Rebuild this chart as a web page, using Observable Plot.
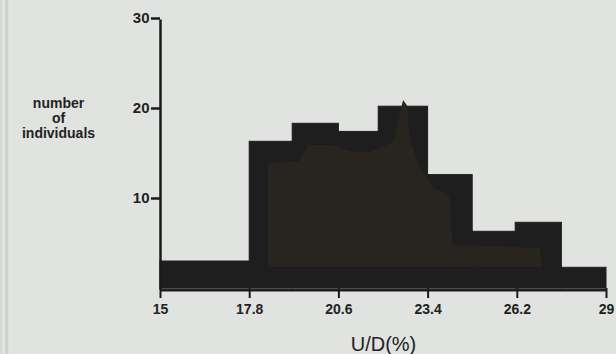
<!DOCTYPE html>
<html>
<head>
<meta charset="utf-8">
<script src="https://cdn.jsdelivr.net/npm/d3@7"></script>
<script src="https://cdn.jsdelivr.net/npm/@observablehq/plot@0.6"></script>
<style>
  html, body { margin: 0; padding: 0; background: #e1e3e0; }
  body { width: 616px; height: 354px; overflow: hidden; position: relative;
         background: linear-gradient(to right, #d3d5d2 0px, #e6e8e5 4px, #c9cbc8 7px, #e3e5e2 9px, #e1e3e0 14px); }
  #chart svg { display: block; }
</style>
</head>
<body>
<div id="chart"></div>
<script>
// Outer histogram: bin edges and counts
const binStart = [15, 17.8, 19.15, 20.6, 21.85, 23.4, 24.8, 26.15, 27.6];
const binEnd   = [17.8, 19.15, 20.6, 21.85, 23.4, 24.8, 26.15, 27.6, 29];
const counts   = [3.0, 16.3, 18.3, 17.4, 20.2, 12.6, 6.3, 7.3, 2.3];

// Inner (overlaid, brownish) distribution outline
const innerX   = [18.39, 18.92, 19.33, 19.65, 20.34, 21.0, 21.6, 21.91, 22.31, 22.47, 22.63, 22.75, 22.85, 23.16, 23.63, 24.10, 24.17, 25.0, 26.0, 26.93, 26.99];
const innerTop = [13.8, 14.0, 14.0, 15.9, 15.9, 15.2, 15.1, 15.6, 16.2, 18.5, 20.9, 20.3, 16.4, 13.3, 11.0, 10.4, 4.8, 4.7, 4.6, 4.4, 2.33];
const innerBase = 2.33;

const xTicks = [15, 17.8, 20.6, 23.4, 26.2, 29];
const xTickLabels = ["15", "17.8", "20.6", "23.4", "26.2", "29"];
const yTicks = [10, 20, 30];
const yLabel = "number\nof\nindividuals";
const xLabel = "U/D(%)";

const bins = binStart.map((s, i) => ({x1: s, x2: binEnd[i], y: counts[i]}));
const inner = innerX.map((x, i) => ({x, y: innerTop[i]}));

const chart = Plot.plot({
  width: 616,
  height: 354,
  marginLeft: 160,
  marginRight: 10,
  marginTop: 18,
  marginBottom: 66,
  style: {background: "transparent", fontFamily: "Liberation Sans, Arial, sans-serif", fontWeight: "bold", color: "#222"},
  x: {domain: [15, 29]},
  y: {domain: [0, 30]},
  marks: [
    Plot.rectY(bins, {x1: "x1", x2: "x2", y: "y", fill: "#1e1e1e", stroke: "#1e1e1e", strokeWidth: 1, insetLeft: 0, insetRight: 0}),
    Plot.areaY(inner, {x: "x", y1: innerBase, y2: "y", fill: "#282420", curve: "linear"}),
    Plot.ruleY([0], {x1: 15, x2: 29, stroke: "#1e1e1e", strokeWidth: 3, dy: 1.5}),
    Plot.ruleX([15], {y1: 0, y2: 30, stroke: "#1a1a1a", strokeWidth: 2.5, dy: 1.5}),
    Plot.axisY({ticks: yTicks, tickSize: 9, tickPadding: 2, fontSize: 15, strokeWidth: 2.5, stroke: "#1a1a1a", label: null}),
    Plot.axisX({ticks: xTicks, tickFormat: (d, i) => xTickLabels[i], tickSize: 10, tickPadding: 6, fontSize: 14, strokeWidth: 2, stroke: "#1a1a1a", label: null}),
    Plot.axisX({ticks: [], label: xLabel, labelAnchor: "center", labelArrow: "none", labelOffset: 62, fontSize: 20, fontWeight: "normal"}),
    Plot.text([yLabel], {x: 15, y: 18.9, dx: -102, text: d => d, fontSize: 14, lineHeight: 1.05, textAnchor: "middle", fill: "#222"})
  ]
});
document.getElementById("chart").appendChild(chart);
</script>
</body>
</html>
